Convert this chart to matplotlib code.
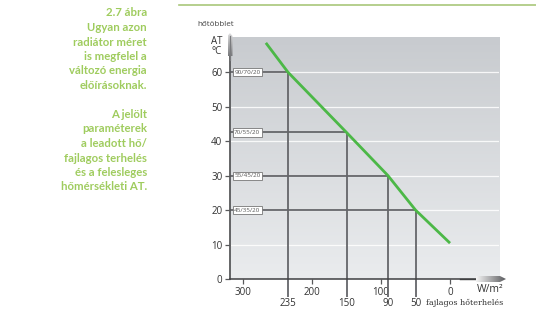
import numpy as np
import matplotlib
matplotlib.use("Agg")
import matplotlib.pyplot as plt
from matplotlib.patches import Polygon

# ---- data ----
y_ticks = [0, 10, 20, 30, 40, 50, 60]
x_ticks = [300, 200, 100, 0]
point_loads = [235, 150, 90, 50]          # W/m2
point_dT = [60, 42.5, 30, 20]             # deg C
point_labels = ["90/70/20", "70/55/20", "55/45/20", "45/35/20"]
line_x = [267, 235, 150, 90, 50, 0]
line_y = [68.5, 60, 42.5, 30, 20, 10.4]
side_text = ["2.7 ábra", "Ugyan azon", "radiátor méret", "is megfelel a",
             "változó energia", "előírásoknak.", "", "A jelölt", "paraméterek",
             "a leadott hő/", "fajlagos terhelés", "és a felesleges",
             "hőmérsékleti AT."]

W, H = 536, 325
fig = plt.figure(figsize=(W / 100, H / 100), dpi=100)
fig.patch.set_facecolor("white")

L, R, T, B = 230, 499, 37, 279
ax = fig.add_axes([L / W, 1 - B / H, (R - L) / W, (B - T) / H])
xmin, xmax = 319, -71
ax.set_xlim(xmin, xmax)
ax.set_ylim(0, 70.2)

# gradient background
grad = np.linspace(0, 1, 256)[:, None]
top = np.array([200, 203, 207]) / 255
bot = np.array([234, 236, 238]) / 255
img = top[None, None, :] * (1 - grad[:, :, None]) + bot[None, None, :] * grad[:, :, None]
ax.imshow(img, extent=[xmin, xmax, 0, 70.2], aspect="auto", origin="upper", zorder=0)

for s in ax.spines.values():
    s.set_visible(False)

# white grid lines
for yv in y_ticks[1:]:
    ax.axhline(yv, color="white", lw=0.9, alpha=0.85, zorder=1)

dark = "#65666a"
for xv, yv, lab in zip(point_loads, point_dT, point_labels):
    ax.plot([xmin, xv], [yv, yv], color=dark, lw=1.3, zorder=3, solid_capstyle="butt")
    ax.plot([xv, xv], [yv, -5.3], color=dark, lw=1.3, zorder=3, clip_on=False,
            solid_capstyle="butt")
    ax.text(294, yv, lab, fontsize=4.5, color="#555555", ha="center", va="center",
            family="Open Sans", zorder=5,
            bbox=dict(boxstyle="square,pad=0.25", fc="white", ec="#777777", lw=0.6))

ax.plot(line_x, line_y, color="#4cb847", lw=2.0, zorder=4, solid_capstyle="butt",
        solid_joinstyle="round")

# axes lines
ax.plot([xmin, xmin], [0, 70.2], color="#58595b", lw=1.3, clip_on=False, zorder=6)
ax.plot([xmin, -60], [0, 0], color="#3f4042", lw=1.1, clip_on=False, zorder=6)

ax.set_yticks(y_ticks)
ax.set_xticks(x_ticks)
ax.tick_params(axis="both", length=3.5, width=0.9, color="#58595b",
               labelsize=7, labelcolor="#333333", pad=2)
for lab in ax.get_xticklabels() + ax.get_yticklabels():
    lab.set_family("Open Sans")

for xv in point_loads:
    ax.text(xv, -7.0, str(xv), fontsize=7, color="#333333", ha="center", va="center",
            family="Open Sans")

# overlay in pixel coordinates for decorations
ov = fig.add_axes([0, 0, 1, 1])
ov.set_xlim(0, W)
ov.set_ylim(H, 0)
ov.axis("off")
ov.patch.set_alpha(0)

ov.plot([179, 536], [5, 5], color="#a9c77a", lw=1.2)

# x-axis arrow with gradient
arrow = Polygon([[476, 276], [500, 276], [506, 279], [500, 282], [476, 282]],
                closed=True, fc="none", ec="none")
ov.add_patch(arrow)
hg = np.linspace(0, 1, 256)[None, :]
c0 = np.array([245, 245, 245]) / 255
c1 = np.array([90, 91, 94]) / 255
himg = c0[None, None, :] * (1 - hg[:, :, None]) + c1[None, None, :] * hg[:, :, None]
im = ov.imshow(himg, extent=[476, 506, 282, 276], aspect="auto", zorder=7)
im.set_clip_path(arrow)
ov.plot([460, 500], [279, 279], color="#3f4042", lw=1.0, zorder=6)

# y-axis cap with gradient
cap = Polygon([[227.5, 56], [227.5, 36], [230, 33], [232.5, 36], [232.5, 56]],
              closed=True, fc="none", ec="none")
ov.add_patch(cap)
vg = np.linspace(0, 1, 256)[:, None]
v0 = np.array([225, 225, 226]) / 255
v1 = np.array([120, 121, 124]) / 255
vimg = v0[None, None, :] * (1 - vg[:, :, None]) + v1[None, None, :] * vg[:, :, None]
vimg = np.repeat(vimg, 4, axis=1)
im2 = ov.imshow(vimg, extent=[227.5, 232.5, 56, 33], aspect="auto", zorder=7)
im2.set_clip_path(cap)
ov.plot([230, 230], [36, 60], color="#7a7b7e", lw=0.9, zorder=8)

ov.text(216, 24, "hőtöbblet", fontsize=5.8, color="#444444", ha="center", va="center",
        family="Open Sans")
ov.text(217, 42, "AT", fontsize=7, color="#333333", ha="center", va="center",
        family="Open Sans")
ov.text(217, 52, "°C", fontsize=7, color="#333333", ha="center", va="center",
        family="Open Sans")
ov.text(490, 290, "W/m²", fontsize=7.5, color="#333333", ha="center", va="center",
        family="Open Sans")
ov.text(465, 303, "fajlagos hőterhelés", fontsize=5.8, color="#333333", ha="center",
        va="center", family="DejaVu Serif")

# side text
for i, line in enumerate(side_text):
    if not line:
        continue
    ov.text(147, 13 + i * 14.5, line, fontsize=8.2, color="#9fcc5e", ha="right",
            va="center", family="Lato", fontweight="bold")

fig.savefig("out.png", dpi=100)
